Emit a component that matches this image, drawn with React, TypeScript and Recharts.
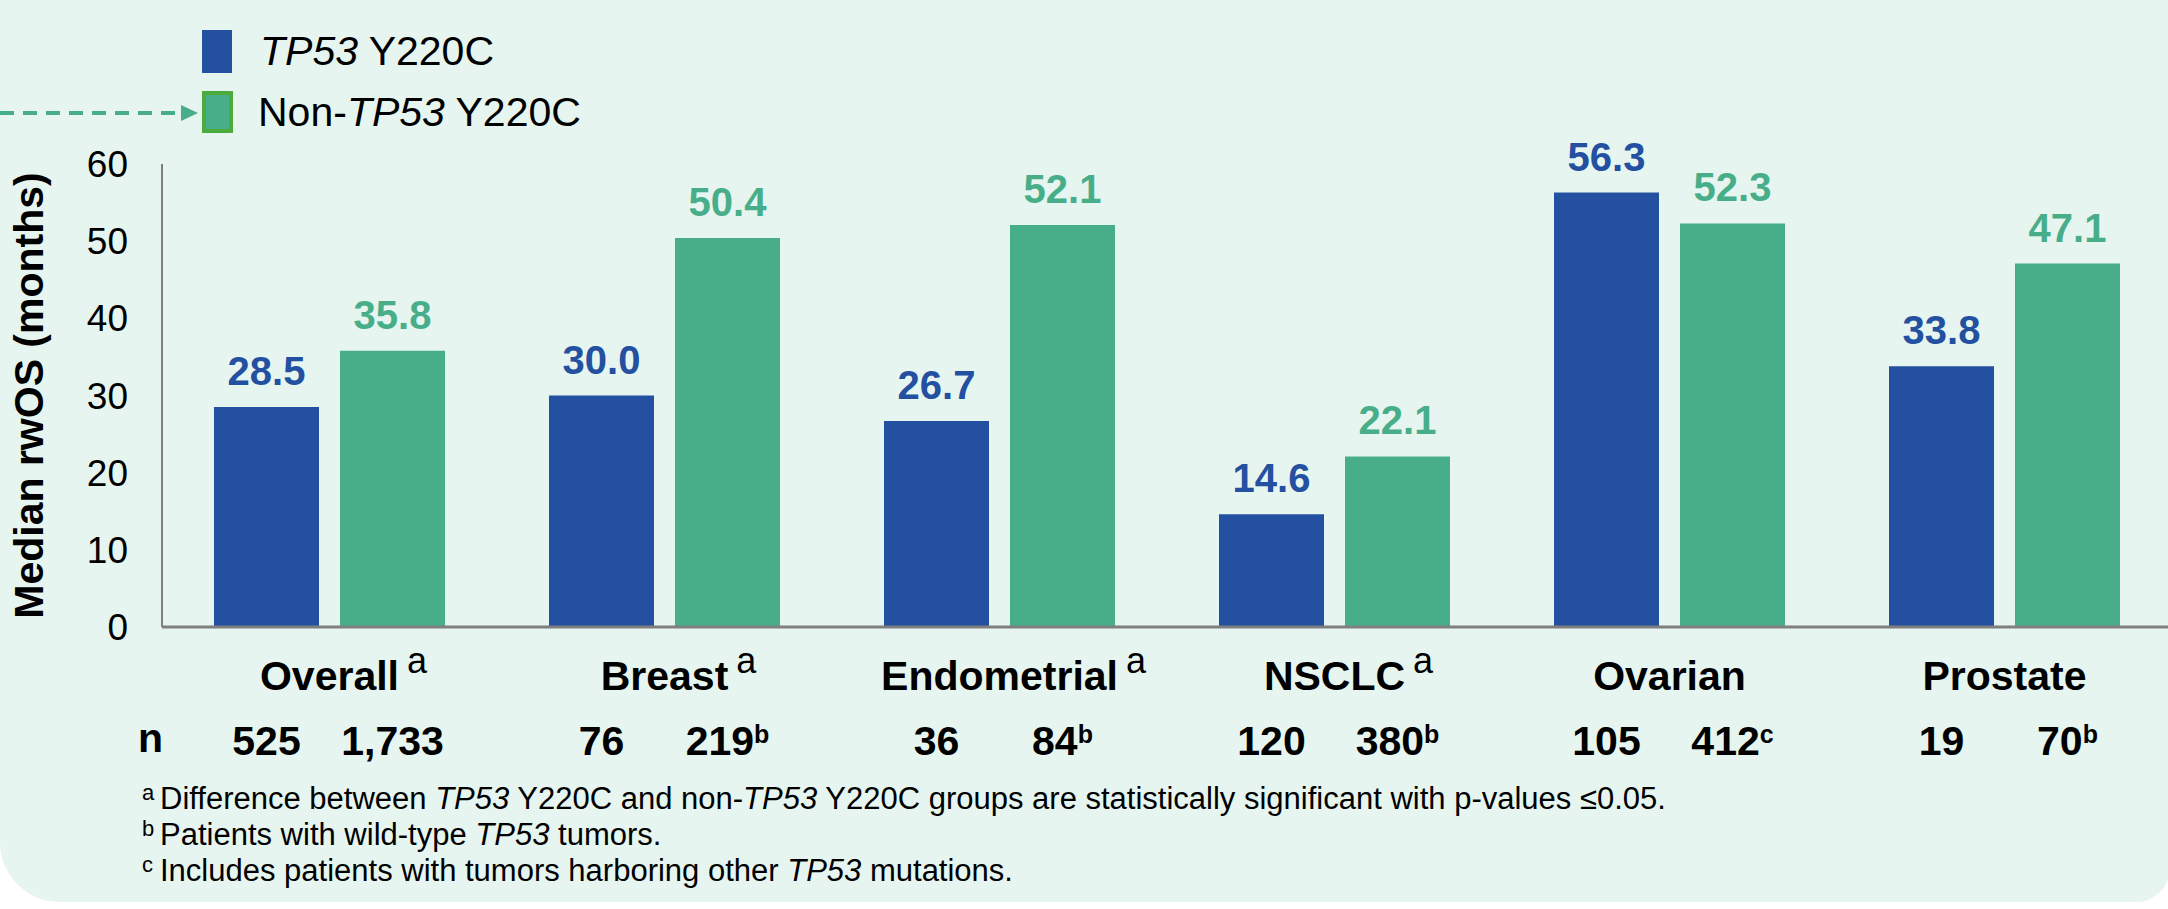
import React from 'react';
import { BarChart, Bar, XAxis, YAxis, LabelList, Legend, Label } from 'recharts';

// ---------- data ----------
const categories = ['Overall', 'Breast', 'Endometrial', 'NSCLC', 'Ovarian', 'Prostate'];
const categorySup = ['a', 'a', 'a', 'a', '', ''];
const tp53Values = [28.5, 30.0, 26.7, 14.6, 56.3, 33.8];
const nonTp53Values = [35.8, 50.4, 52.1, 22.1, 52.3, 47.1];
const tp53N = ['525', '76', '36', '120', '105', '19'];
const tp53NSup = ['', '', '', '', '', ''];
const nonTp53N = ['1,733', '219', '84', '380', '412', '70'];
const nonTp53NSup = ['', 'b', 'b', 'b', 'c', 'b'];
const yTicks = [0, 10, 20, 30, 40, 50, 60];

const data = categories.map((category, i) => ({
  category,
  tp53: tp53Values[i],
  nonTp53: nonTp53Values[i],
  tp53N: tp53N[i],
  nonTp53N: nonTp53N[i],
}));

// ---------- style ----------
const FONT = '"Liberation Sans", Arial, Helvetica, sans-serif';
const BLUE = '#2350A0';
const GREEN = '#48AE89';
const BG = '#E6F5EF';
const AXIS = '#7F7F7F';

const makeValueLabel = (color: string) => (props: any) => {
  const x = Number(props.x);
  const y = Number(props.y);
  const w = Number(props.width);
  return (
    <text
      x={x + w / 2}
      y={y - 22}
      textAnchor="middle"
      fill={color}
      fontSize={40}
      fontWeight={700}
      fontFamily={FONT}
    >
      {Number(props.value).toFixed(1)}
    </text>
  );
};

const makeNLabel = (sups: string[]) => (props: any) => {
  const x = Number(props.x);
  const y = Number(props.y);
  const w = Number(props.width);
  const h = Number(props.height);
  const sup = sups[props.index];
  return (
    <text
      x={x + w / 2}
      y={y + h + 128}
      textAnchor="middle"
      fill="#000"
      fontSize={41}
      fontWeight={700}
      fontFamily={FONT}
    >
      {props.value}
      {sup ? (
        <tspan fontSize={25} dy={-12}>
          {sup}
        </tspan>
      ) : null}
    </text>
  );
};

const CategoryTick = (props: any) => {
  const { x, y, payload } = props;
  const idx = props.index ?? payload.index;
  const sup = categorySup[idx];
  return (
    <g>
      <text x={x} y={Number(y) + 63} textAnchor="middle" fill="#000" fontFamily={FONT}>
        {sup ? (
          <tspan fontSize={36} fillOpacity={0}>
            {sup}
          </tspan>
        ) : null}
        <tspan fontSize={41} fontWeight={700} dx={sup ? 8 : 0}>
          {payload.value}
        </tspan>
        {sup ? (
          <tspan fontSize={36} dx={8} dy={-17}>
            {sup}
          </tspan>
        ) : null}
      </text>
    </g>
  );
};

const YTitle = (props: any) => {
  const vb = props.viewBox || { x: 0, y: 164, width: 162, height: 463 };
  const cy = vb.y + vb.height / 2;
  const cx = 43;
  return (
    <text
      x={cx}
      y={cy}
      transform={`rotate(-90 ${cx} ${cy})`}
      textAnchor="middle"
      fill="#000"
      fontSize={41}
      fontWeight={700}
      fontFamily={FONT}
    >
      Median rwOS (months)
    </text>
  );
};

const LegendContent = () => (
  <svg width={700} height={150} style={{ display: 'block', overflow: 'visible' }}>
    <rect x={202} y={30} width={30} height={43} fill={BLUE} />
    <text x={260} y={65} fontSize={41} fontFamily={FONT} fill="#000">
      <tspan fontStyle="italic">TP53</tspan> Y220C
    </text>
    <line x1={0} y1={113} x2={176} y2={113} stroke={GREEN} strokeWidth={4} strokeDasharray="14 9" />
    <polygon points="181,105 198,113 181,121" fill={GREEN} />
    <rect x={204} y={93} width={27} height={38} fill={GREEN} stroke="#4CAB3E" strokeWidth={4} />
    <text x={258} y={126} fontSize={41} fontFamily={FONT} fill="#000">
      Non-<tspan fontStyle="italic">TP53</tspan> Y220C
    </text>
  </svg>
);

export default function App() {
  return (
    <div
      style={{
        position: 'absolute',
        left: 0,
        top: 0,
        width: 2168,
        height: 909,
        overflow: 'hidden',
        background: '#fff',
        fontFamily: FONT,
      }}
    >
      <div
        style={{
          position: 'absolute',
          left: 0,
          top: 0,
          width: 2170,
          height: 902,
          background: BG,
          borderBottomLeftRadius: 60,
          borderBottomRightRadius: 34,
        }}
      />
      <div style={{ position: 'absolute', left: 0, top: 0 }}>
        <BarChart
          width={2172}
          height={909}
          data={data}
          margin={{ top: 164, right: 0, bottom: 182, left: 0 }}
          barSize={105}
          barGap={21}
        >
          <XAxis
            dataKey="category"
            height={100}
            axisLine={{ stroke: AXIS, strokeWidth: 3 }}
            tickLine={false}
            tickSize={0}
            tickMargin={0}
            interval={0}
            tick={(p: any) => <CategoryTick {...p} />}
          />
          <YAxis
            width={162}
            domain={[0, 60]}
            ticks={yTicks}
            interval={0}
            axisLine={{ stroke: AXIS, strokeWidth: 2 }}
            tickLine={false}
            tickSize={0}
            tickMargin={34}
            tick={{ fill: '#000', fontSize: 37, fontFamily: FONT }}
          >
            <Label content={YTitle} />
          </YAxis>
          <Legend
            layout="horizontal"
            verticalAlign="middle"
            align="center"
            content={LegendContent}
            wrapperStyle={{ left: 0, top: 0, width: 700, height: 150 }}
          />
          <Bar dataKey="tp53" name="TP53 Y220C" fill={BLUE} barSize={105} isAnimationActive={false}>
            <LabelList dataKey="tp53" content={makeValueLabel(BLUE)} />
            <LabelList dataKey="tp53N" content={makeNLabel(tp53NSup)} />
          </Bar>
          <Bar dataKey="nonTp53" name="Non-TP53 Y220C" fill={GREEN} barSize={105} isAnimationActive={false}>
            <LabelList dataKey="nonTp53" content={makeValueLabel(GREEN)} />
            <LabelList dataKey="nonTp53N" content={makeNLabel(nonTp53NSup)} />
          </Bar>
        </BarChart>
      </div>
      <svg
        width={2168}
        height={909}
        style={{ position: 'absolute', left: 0, top: 0, pointerEvents: 'none' }}
      >
        <text x={138} y={752} fontSize={41} fontWeight={700} fontFamily={FONT} fill="#000">
          n
        </text>
        <g fontFamily={FONT} fill="#000">
          <text x={142} y={800} fontSize={22}>a</text>
          <text x={160} y={809} fontSize={31}>
            Difference between <tspan fontStyle="italic">TP53</tspan> Y220C and non-
            <tspan fontStyle="italic">TP53</tspan> Y220C groups are statistically significant with p-values ≤0.05.
          </text>
          <text x={142} y={836} fontSize={22}>b</text>
          <text x={160} y={845} fontSize={31}>
            Patients with wild-type <tspan fontStyle="italic">TP53</tspan> tumors.
          </text>
          <text x={142} y={872} fontSize={22}>c</text>
          <text x={160} y={881} fontSize={31}>
            Includes patients with tumors harboring other <tspan fontStyle="italic">TP53</tspan> mutations.
          </text>
        </g>
      </svg>
    </div>
  );
}
